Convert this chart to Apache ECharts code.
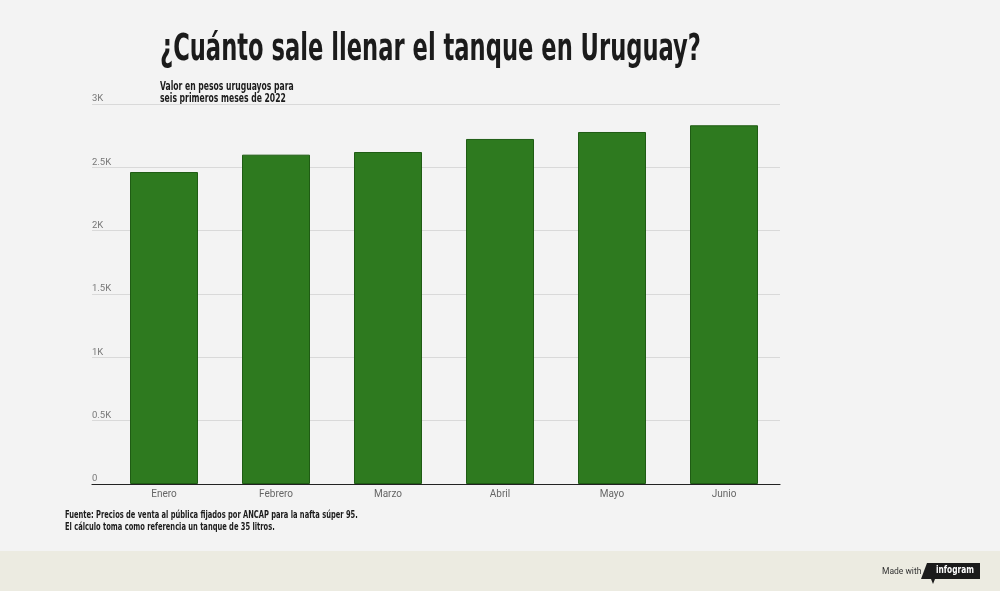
<!DOCTYPE html>
<html><head><meta charset="utf-8">
<script src="https://cdn.jsdelivr.net/npm/echarts@6/dist/echarts.min.js"></script>
<style>html,body{margin:0;padding:0;background:#f3f3f3}#c{width:1000px;height:591px}</style>
</head><body><div id="c"></div>
<script>
const categories = ['Enero','Febrero','Marzo','Abril','Mayo','Junio'];
const values = [2463, 2600, 2621, 2724, 2779, 2832];
const yLabels = {0:'0',500:'0.5K',1000:'1K',1500:'1.5K',2000:'2K',2500:'2.5K',3000:'3K'};
const titleText = '¿Cuánto sale llenar el tanque en Uruguay?';
const subtitleText = 'Valor en pesos uruguayos para\nseis primeros meses de 2022';
const sourceText = 'Fuente: Precios de venta al pública fijados por ANCAP para la nafta súper 95.\nEl cálculo toma como referencia un tanque de 35 litros.';

const condensed = '"DejaVu Sans Condensed","DejaVu Sans",sans-serif';
const chart = echarts.init(document.getElementById('c'));
chart.setOption({
  backgroundColor: '#f3f3f3',
  animation: false,
  grid: [
    {left: 108, right: 220, top: 104, bottom: 107},
    {left: 92, right: 220, top: 104, bottom: 107}
  ],
  xAxis: [{
    type: 'category', data: categories, gridIndex: 0,
    axisLine: {show: false}, axisTick: {show: false},
    axisLabel: {color: '#666', fontFamily: 'Roboto', fontSize: 10, margin: 5}
  },{
    type: 'value', gridIndex: 1, min: 0, max: 1,
    axisLine: {show: true, lineStyle: {color: '#222', width: 1.2}},
    axisTick: {show: false}, axisLabel: {show: false}, splitLine: {show: false}
  }],
  yAxis: [{
    type: 'value', gridIndex: 0, min: 0, max: 3000, interval: 500,
    axisLine: {show: false}, axisTick: {show: false}, splitLine: {show: false},
    axisLabel: {
      color: '#777', fontFamily: 'Roboto', fontSize: 9.5, align: 'left', verticalAlign: 'bottom',
      margin: 16, padding: [0,0,0,0],
      formatter: v => yLabels[v]
    }
  },{
    type: 'value', gridIndex: 1, min: 0, max: 3000, interval: 500,
    axisLine: {show: false}, axisTick: {show: false}, axisLabel: {show: false},
    splitLine: {show: true, lineStyle: {color: '#d9d9d9', width: 1}}
  }],
  series: [{
    type: 'bar', data: values, xAxisIndex: 0, yAxisIndex: 0,
    barWidth: 68, z: 3,
    itemStyle: {color: '#2e7a1f', borderColor: '#1f5c14', borderWidth: 1}
  }],
  graphic: [
    {type: 'rect', shape: {x: 0, y: 551, width: 1000, height: 40}, style: {fill: '#ecebe1'}, z: -1},
    {type: 'text', x: 160, y: 32, scaleX: 0.68,
      style: {text: titleText, fill: '#1b1b1b', font: 'bold 37px ' + condensed}},
    {type: 'text', x: 160, y: 81, scaleX: 0.71,
      style: {text: subtitleText, fill: '#1b1b1b', font: 'bold 12px ' + condensed, lineHeight: 12}},
    {type: 'text', x: 65, y: 510, scaleX: 0.71,
      style: {text: sourceText, fill: '#1b1b1b', font: 'bold 10.5px ' + condensed, lineHeight: 11.5}},
    {type: 'text', x: 882, y: 567, style: {text: 'Made with', fill: '#333', font: '8.5px Roboto'}},
    {type: 'polygon', shape: {points: [[927,563],[980,563],[980,579],[935,579],[933,584],[931,579],[921,579]]}, style: {fill: '#1b1b1b'}},
    {type: 'text', x: 936, y: 565, scaleX: 0.75, style: {text: 'infogram', fill: '#fff', font: 'bold 11px ' + condensed}}
  ]
});
</script></body></html>
